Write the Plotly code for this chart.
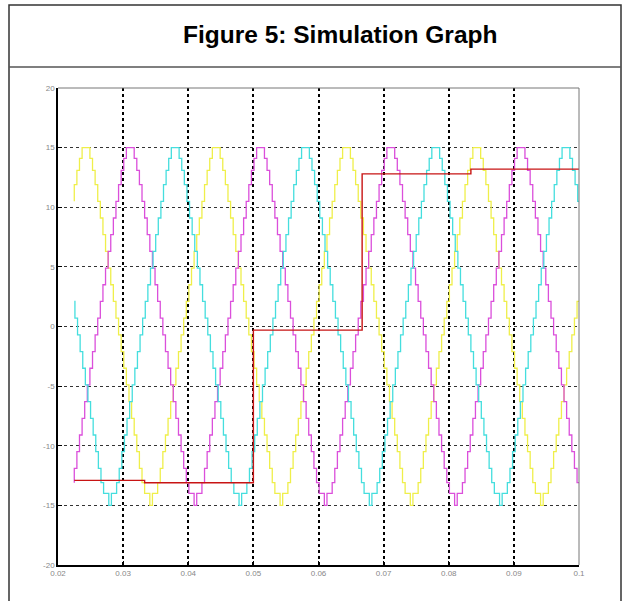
import plotly.graph_objects as go

# ---------------- data ----------------
X_TICKS = [0.02, 0.03, 0.04, 0.05, 0.06, 0.07, 0.08, 0.09, 0.1]
X_LABELS = ["0.02", "0.03", "0.04", "0.05", "0.06", "0.07", "0.08", "0.09", "0.1"]
Y_TICKS = [-20, -15, -10, -5, 0, 5, 10, 15, 20]
Y_LABELS = ["-20", "-15", "-10", "-5", "0", "5", "10", "15", "20"]

T_START = 0.0225          # first sample shown
T_END = 0.1               # last sample shown
STEP = 0.0004             # hold time of one stair step (s)

# one 20 ms cycle of the stair-step waveform, starting at the upward zero crossing
CYCLE_LEVELS = [0.7, 2.1, 3.5, 4.9, 6.3, 7.7, 9.1, 10.5, 11.9, 13.1, 14.1, 15.0, 15.0,
                15.0, 14.1, 13.1, 11.9, 10.5, 9.1, 7.7, 6.3, 4.9, 3.5, 2.1, 0.7,
                -0.7, -2.1, -3.5, -4.9, -6.3, -7.7, -9.1, -10.5, -11.9, -13.1, -14.0, -14.0,
                -15.0, -14.0, -14.0, -13.1, -11.9, -10.5, -9.1, -7.7, -6.3, -4.9, -3.5, -2.1, -0.7]

# upward zero-crossing time of each phase (s), read from the peaks
PHASE_NAMES = ["yellow", "magenta", "cyan"]
PHASE_T0 = [0.0193, 0.0261, 0.0330]
PHASE_COLORS = ["#efef4a", "#db4fdb", "#45dede"]

# red step signal
RED_T = [0.0225, 0.0333, 0.0500, 0.0667, 0.0834, 0.1000]
RED_V = [-12.9, -13.1, -0.3, 12.8, 13.2, 13.2]
RED_COLOR = "#c81414"

# ---------------- build staircase traces ----------------
def stair(t0):
    n = len(CYCLE_LEVELS)
    k0 = int((T_START - t0) // STEP)
    xs, ys = [], []
    k = k0
    while True:
        ts = t0 + k * STEP
        if ts >= T_END - 1e-9:
            break
        xs.append(max(ts, T_START))
        ys.append(CYCLE_LEVELS[k % n])
        k += 1
    xs.append(T_END)
    ys.append(ys[-1])
    return xs, ys

fig = go.Figure()
for name, t0, col in zip(PHASE_NAMES, PHASE_T0, PHASE_COLORS):
    xs, ys = stair(t0)
    fig.add_trace(go.Scatter(x=xs, y=ys, mode="lines", name=name,
                             line=dict(color=col, width=1.3, shape="hv")))
fig.add_trace(go.Scatter(x=RED_T, y=RED_V, mode="lines", name="red",
                         line=dict(color=RED_COLOR, width=1.4, shape="hv")))

# ---------------- layout ----------------
W, H = 626, 601
L, R, T, B = 58, 579, 88, 565

def px(xp):
    return (xp - L) / (R - L)

def py(yp):
    return (B - yp) / (B - T)

fig.update_layout(
    width=W, height=H,
    margin=dict(l=L, r=W - R, t=T, b=H - B),
    paper_bgcolor="white", plot_bgcolor="white",
    showlegend=False,
    xaxis=dict(range=[0.02, 0.1], tickvals=X_TICKS, ticktext=X_LABELS,
               showgrid=True, gridcolor="black", griddash="dot", gridwidth=1.5,
               showline=True, linecolor="black", linewidth=1.5,
               ticks="inside", ticklen=4, tickcolor="black",
               tickfont=dict(family="Liberation Sans", size=8, color="#888"),
               zeroline=False),
    yaxis=dict(range=[-20, 20], tickvals=Y_TICKS, ticktext=Y_LABELS,
               showgrid=True, gridcolor="#333", griddash="dot", gridwidth=1,
               showline=True, linecolor="black", linewidth=1.5,
               ticks="inside", ticklen=4, tickcolor="black",
               tickfont=dict(family="Liberation Sans", size=8, color="#888"),
               zeroline=False),
    shapes=[
        # outer frame and header separator
        dict(type="rect", xref="paper", yref="paper",
             x0=px(9), x1=px(621), y0=py(615), y1=py(5),
             line=dict(color="#333", width=1.5), layer="above"),
        dict(type="line", xref="paper", yref="paper",
             x0=px(9), x1=px(621), y0=py(67), y1=py(67),
             line=dict(color="#555", width=1.5), layer="above"),
        # top and right plot borders (lighter)
        dict(type="line", xref="paper", yref="paper", x0=0, x1=1, y0=1, y1=1,
             line=dict(color="#777", width=1), layer="above"),
        dict(type="line", xref="paper", yref="paper", x0=1, x1=1, y0=0, y1=1,
             line=dict(color="#777", width=1), layer="above"),
    ],
    annotations=[
        dict(text="<b>Figure 5: Simulation Graph</b>", xref="paper", yref="paper",
             x=px(340), y=py(35), xanchor="center", yanchor="middle", showarrow=False,
             font=dict(family="Liberation Sans", size=24.5, color="black")),
    ],
)

fig.write_html("out.html",
               config={"displayModeBar": False},
               post_script="document.body.style.margin='0px';"
                           "document.body.style.overflow='hidden';")
